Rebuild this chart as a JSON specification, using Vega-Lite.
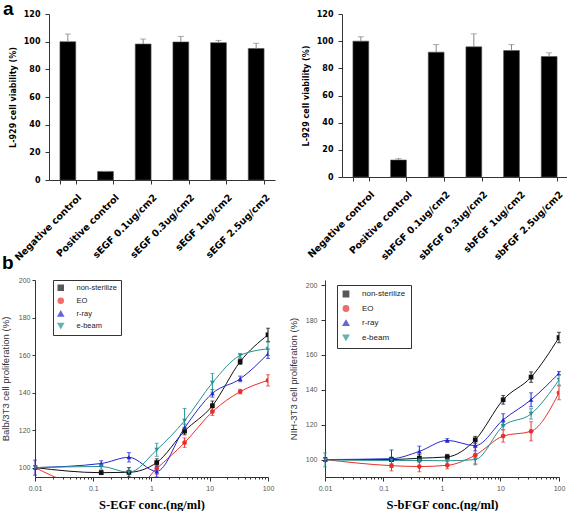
{
  "$schema": "https://vega.github.io/schema/vega-lite/v6.json",
  "padding": 0,
  "background": "white",
  "config": {
    "view": {"stroke": null},
    "font": "Liberation Sans",
    "axis": {"grid": false, "domainColor": "#333", "tickColor": "#333"}
  },
  "datasets": {
    "a1": [
      {"cat": "Negative control", "v": 100, "hi": 105.5},
      {"cat": "Positive control", "v": 6.2, "hi": 6.2},
      {"cat": "sEGF 0.1ug/cm2", "v": 98.3, "hi": 101.9},
      {"cat": "sEGF 0.3ug/cm2", "v": 99.8, "hi": 103.8},
      {"cat": "sEGF 1ug/cm2", "v": 99.3, "hi": 100.9},
      {"cat": "sEGF 2.5ug/cm2", "v": 95, "hi": 98.8}
    ],
    "a2": [
      {"cat": "Negative control", "v": 100, "hi": 103.2},
      {"cat": "Positive control", "v": 12.5, "hi": 13.5},
      {"cat": "sbFGF 0.1ug/cm2", "v": 91.9, "hi": 97.5},
      {"cat": "sbFGF 0.3ug/cm2", "v": 95.8, "hi": 105.4},
      {"cat": "sbFGF 1ug/cm2", "v": 93.1, "hi": 97.5},
      {"cat": "sbFGF 2.5ug/cm2", "v": 88.7, "hi": 91.4}
    ],
    "b1": [
      {"g": "non-sterilize", "c": 0.01, "v": 100, "e": 1},
      {"g": "non-sterilize", "c": 0.137, "v": 97.3, "e": 1},
      {"g": "non-sterilize", "c": 0.41, "v": 97.5, "e": 2.5},
      {"g": "non-sterilize", "c": 1.23, "v": 102.7, "e": 2},
      {"g": "non-sterilize", "c": 3.7, "v": 119.5, "e": 2},
      {"g": "non-sterilize", "c": 11.1, "v": 133, "e": 2.5},
      {"g": "non-sterilize", "c": 33.3, "v": 156.5, "e": 1.5},
      {"g": "non-sterilize", "c": 100, "v": 170.8, "e": 3.5},
      {"g": "EO", "c": 0.01, "v": 100, "e": 1},
      {"g": "EO", "c": 0.137, "v": 87, "e": 1},
      {"g": "EO", "c": 0.41, "v": 86, "e": 1},
      {"g": "EO", "c": 1.23, "v": 99.5, "e": 3},
      {"g": "EO", "c": 3.7, "v": 113.3, "e": 2.5},
      {"g": "EO", "c": 11.1, "v": 129.8, "e": 2},
      {"g": "EO", "c": 33.3, "v": 140.5, "e": 1.2},
      {"g": "EO", "c": 100, "v": 146.5, "e": 3},
      {"g": "r-ray", "c": 0.01, "v": 100, "e": 4},
      {"g": "r-ray", "c": 0.137, "v": 102.2, "e": 1.5},
      {"g": "r-ray", "c": 0.41, "v": 105.5, "e": 2.5},
      {"g": "r-ray", "c": 1.23, "v": 98, "e": 3},
      {"g": "r-ray", "c": 3.7, "v": 121.2, "e": 2},
      {"g": "r-ray", "c": 11.1, "v": 139.6, "e": 2},
      {"g": "r-ray", "c": 33.3, "v": 147.3, "e": 1.5},
      {"g": "r-ray", "c": 100, "v": 160.7, "e": 2.5},
      {"g": "e-beam", "c": 0.01, "v": 100, "e": 1},
      {"g": "e-beam", "c": 0.137, "v": 100.6, "e": 1.5},
      {"g": "e-beam", "c": 0.41, "v": 97.5, "e": 1},
      {"g": "e-beam", "c": 1.23, "v": 109.5, "e": 3.5},
      {"g": "e-beam", "c": 3.7, "v": 125, "e": 6.5},
      {"g": "e-beam", "c": 11.1, "v": 145.2, "e": 5},
      {"g": "e-beam", "c": 33.3, "v": 159.8, "e": 1},
      {"g": "e-beam", "c": 100, "v": 163.3, "e": 3.5}
    ],
    "b2": [
      {"g": "non-sterilize", "c": 0.01, "v": 100, "e": 1},
      {"g": "non-sterilize", "c": 0.137, "v": 100, "e": 1},
      {"g": "non-sterilize", "c": 0.41, "v": 100.8, "e": 2},
      {"g": "non-sterilize", "c": 1.23, "v": 101.5, "e": 1.5},
      {"g": "non-sterilize", "c": 3.7, "v": 111.3, "e": 2},
      {"g": "non-sterilize", "c": 11.1, "v": 134.3, "e": 2.5},
      {"g": "non-sterilize", "c": 33.3, "v": 147.3, "e": 3},
      {"g": "non-sterilize", "c": 100, "v": 170, "e": 3},
      {"g": "EO", "c": 0.01, "v": 100, "e": 1},
      {"g": "EO", "c": 0.137, "v": 96.5, "e": 3},
      {"g": "EO", "c": 0.41, "v": 96, "e": 3},
      {"g": "EO", "c": 1.23, "v": 96.7, "e": 2},
      {"g": "EO", "c": 3.7, "v": 102.5, "e": 5},
      {"g": "EO", "c": 11.1, "v": 113.5, "e": 3.5},
      {"g": "EO", "c": 33.3, "v": 116.2, "e": 5.5},
      {"g": "EO", "c": 100, "v": 138.3, "e": 4},
      {"g": "r-ray", "c": 0.01, "v": 100, "e": 1},
      {"g": "r-ray", "c": 0.137, "v": 100.5, "e": 5},
      {"g": "r-ray", "c": 0.41, "v": 104.7, "e": 3},
      {"g": "r-ray", "c": 1.23, "v": 111, "e": 1},
      {"g": "r-ray", "c": 3.7, "v": 108, "e": 3},
      {"g": "r-ray", "c": 11.1, "v": 122.8, "e": 3.5},
      {"g": "r-ray", "c": 33.3, "v": 134.3, "e": 4},
      {"g": "r-ray", "c": 100, "v": 149.5, "e": 1},
      {"g": "e-beam", "c": 0.01, "v": 99.8, "e": 4},
      {"g": "e-beam", "c": 0.137, "v": 99.5, "e": 2},
      {"g": "e-beam", "c": 0.41, "v": 99.5, "e": 1},
      {"g": "e-beam", "c": 1.23, "v": 99.3, "e": 2},
      {"g": "e-beam", "c": 3.7, "v": 100, "e": 3},
      {"g": "e-beam", "c": 11.1, "v": 119.3, "e": 2},
      {"g": "e-beam", "c": 33.3, "v": 126.2, "e": 3},
      {"g": "e-beam", "c": 100, "v": 145.7, "e": 3}
    ]
  },
  "spacing": -8,
  "vconcat": [
    {
      "spacing": 27,
      "hconcat": [
        {
          "width": 240, "height": 166,
          "title": {"text": "a", "anchor": "start", "frame": "group", "fontSize": 19, "fontWeight": "bold", "font": "Liberation Sans", "color": "black", "dx": -32, "offset": -9},
          "data": {"name": "a1"},
          "encoding": {
            "x": {"field": "cat", "type": "nominal", "sort": null, "scale": {"paddingInner": 0.58, "paddingOuter": 0.29, "range": [14, 240]},
              "axis": {"title": null, "tickBand": "extent", "labelAngle": -45, "labelFont": "DejaVu Sans", "labelFontWeight": "bold", "labelFontSize": 9.5, "labelColor": "black", "tickSize": 4, "labelPadding": 8, "labelOffset": 8}},
            "y": {"field": "v", "type": "quantitative", "scale": {"domain": [0, 120], "nice": false},
              "axis": {"offset": -14, "title": "L-929 cell viability (%)", "values": [0, 20, 40, 60, 80, 100, 120], "labelFont": "DejaVu Sans", "labelFontWeight": "bold", "labelFontSize": 8, "labelColor": "black", "tickSize": 4, "labelPadding": 5, "titleFont": "DejaVu Sans", "titleFontSize": 8, "titleFontWeight": "bold", "titleColor": "black", "titlePadding": 6}}
          },
          "layer": [
            {"mark": {"type": "bar", "color": "black", "stroke": "#555", "strokeWidth": 0.6}},
            {"mark": {"type": "rule", "color": "#888", "strokeWidth": 1}, "encoding": {"y2": {"field": "hi"}}},
            {"mark": {"type": "tick", "color": "#888", "size": 6, "thickness": 1}, "encoding": {"y": {"field": "hi", "type": "quantitative"}}}
          ]
        },
        {
          "width": 226, "height": 163,
          "data": {"name": "a2"},
          "encoding": {
            "x": {"field": "cat", "type": "nominal", "sort": null, "scale": {"paddingInner": 0.58, "paddingOuter": 0.29},
              "axis": {"title": null, "tickBand": "extent", "labelAngle": -45, "labelFont": "DejaVu Sans", "labelFontWeight": "bold", "labelFontSize": 9.5, "labelColor": "black", "tickSize": 4, "labelPadding": 8, "labelOffset": 8}},
            "y": {"field": "v", "type": "quantitative", "scale": {"domain": [0, 120], "nice": false},
              "axis": {"title": "L-929 cell viability (%)", "values": [0, 20, 40, 60, 80, 100, 120], "labelFont": "DejaVu Sans", "labelFontWeight": "bold", "labelFontSize": 8, "labelColor": "black", "tickSize": 4, "labelPadding": 5, "titleFont": "DejaVu Sans", "titleFontSize": 8, "titleFontWeight": "bold", "titleColor": "black", "titlePadding": 6}}
          },
          "layer": [
            {"mark": {"type": "bar", "color": "black", "stroke": "#555", "strokeWidth": 0.6}},
            {"mark": {"type": "rule", "color": "#888", "strokeWidth": 1}, "encoding": {"y2": {"field": "hi"}}},
            {"mark": {"type": "tick", "color": "#888", "size": 6, "thickness": 1}, "encoding": {"y": {"field": "hi", "type": "quantitative"}}}
          ]
        }
      ]
    },
    {
      "spacing": 14,
      "resolve": {"scale": {"color": "independent", "shape": "independent"}, "legend": {"color": "independent", "shape": "independent"}},
      "hconcat": [
        {
          "width": 233, "height": 197,
          "title": {"text": "b", "anchor": "start", "frame": "group", "fontSize": 19, "fontWeight": "bold", "font": "Liberation Sans", "color": "black", "dx": -33, "offset": 3},
          "data": {"name": "b1"},
          "encoding": {
            "x": {"field": "c", "type": "quantitative", "scale": {"type": "log", "domain": [0.01, 100]},
              "axis": {"title": "S-EGF conc.(ng/ml)", "values": [0.01,0.02,0.03,0.04,0.05,0.06,0.07,0.08,0.09,0.1,0.2,0.3,0.4,0.5,0.6,0.7,0.8,0.9,1,2,3,4,5,6,7,8,9,10,20,30,40,50,60,70,80,90,100], "format": "~g",
                "labelExpr": "abs(log(datum.value)/LN10 - round(log(datum.value)/LN10)) < 0.01 ? datum.label : ''",
                "tickSize": {"condition": {"test": "abs(log(datum.value)/LN10 - round(log(datum.value)/LN10)) < 0.01", "value": 4}, "value": 2},
                "labelOverlap": false, "labelFlush": false, "labelFontSize": 7, "labelColor": "#555", "labelPadding": 3,
                "titleFont": "Liberation Serif", "titleFontSize": 12.5, "titleFontWeight": "bold", "titleColor": "black", "titlePadding": 7}},
            "y": {"field": "v", "type": "quantitative", "scale": {"domain": [95, 200], "nice": false, "zero": false},
              "axis": {"title": "Balb/3T3 cell proliferation (%)", "values": [100, 120, 140, 160, 180, 200], "labelFontSize": 7, "labelColor": "#555", "tickSize": 3, "labelPadding": 2, "titleFontSize": 9.5, "titleFontWeight": "normal", "titleColor": "#333", "titlePadding": 8}},
            "color": {"field": "g", "type": "nominal", "scale": {"domain": ["non-sterilize", "EO", "r-ray", "e-beam"], "range": ["#111111", "#e8302a", "#2525d0", "#279090"]},
              "legend": {"title": null, "orient": "none", "legendX": 18, "legendY": 0, "strokeColor": "#333", "fillColor": "white", "padding": 4, "labelFontSize": 7.5, "labelColor": "#222", "symbolSize": 25, "rowPadding": 1, "labelOffset": 12}}
          },
          "layer": [
            {"mark": {"type": "line", "interpolate": "monotone", "strokeWidth": 1, "clip": true}},
            {"transform": [{"filter": "datum.v > 95"}], "mark": {"type": "errorbar", "ticks": {"size": 4}, "thickness": 1}, "encoding": {"yError": {"field": "e"}}},
            {"mark": {"type": "point", "filled": true, "size": 22, "opacity": 1, "clip": true},
              "encoding": {"shape": {"field": "g", "type": "nominal", "scale": {"domain": ["non-sterilize", "EO", "r-ray", "e-beam"], "range": ["square", "circle", "triangle-up", "triangle-down"]},
                "legend": {"title": null, "orient": "none", "legendX": 18, "legendY": 0, "strokeColor": "#333", "fillColor": "white", "padding": 4, "labelFontSize": 7.5, "labelColor": "#222", "symbolSize": 25, "rowPadding": 1, "labelOffset": 12}}}}
          ]
        },
        {
          "width": 234, "height": 197,
          "data": {"name": "b2"},
          "encoding": {
            "x": {"field": "c", "type": "quantitative", "scale": {"type": "log", "domain": [0.01, 100]},
              "axis": {"title": "S-bFGF conc.(ng/ml)", "values": [0.01,0.02,0.03,0.04,0.05,0.06,0.07,0.08,0.09,0.1,0.2,0.3,0.4,0.5,0.6,0.7,0.8,0.9,1,2,3,4,5,6,7,8,9,10,20,30,40,50,60,70,80,90,100], "format": "~g",
                "labelExpr": "abs(log(datum.value)/LN10 - round(log(datum.value)/LN10)) < 0.01 ? datum.label : ''",
                "tickSize": {"condition": {"test": "abs(log(datum.value)/LN10 - round(log(datum.value)/LN10)) < 0.01", "value": 4}, "value": 2},
                "labelOverlap": false, "labelFlush": false, "labelFontSize": 7, "labelColor": "#555", "labelPadding": 3,
                "titleFont": "Liberation Serif", "titleFontSize": 12.5, "titleFontWeight": "bold", "titleColor": "black", "titlePadding": 7}},
            "y": {"field": "v", "type": "quantitative", "scale": {"domain": [90, 203], "nice": false, "zero": false},
              "axis": {"title": "NIH-3T3 cell proliferation (%)", "values": [100, 120, 140, 160, 180, 200], "labelFontSize": 7, "labelColor": "#555", "tickSize": 4, "labelPadding": 4, "titleFontSize": 9.5, "titleFontWeight": "normal", "titleColor": "#333", "titlePadding": 7}},
            "color": {"field": "g", "type": "nominal", "scale": {"domain": ["non-sterilize", "EO", "r-ray", "e-beam"], "range": ["#111111", "#e8302a", "#2525d0", "#279090"]},
              "legend": {"title": null, "orient": "none", "legendX": 12, "legendY": 5, "strokeColor": "#333", "fillColor": "white", "padding": 5, "labelFontSize": 8, "labelColor": "#222", "symbolSize": 28, "rowPadding": 2.5, "labelOffset": 12}}
          },
          "layer": [
            {"mark": {"type": "line", "interpolate": "monotone", "strokeWidth": 1, "clip": true}},
            {"mark": {"type": "errorbar", "ticks": {"size": 4}, "thickness": 1}, "encoding": {"yError": {"field": "e"}}},
            {"mark": {"type": "point", "filled": true, "size": 22, "opacity": 1, "clip": true},
              "encoding": {"shape": {"field": "g", "type": "nominal", "scale": {"domain": ["non-sterilize", "EO", "r-ray", "e-beam"], "range": ["square", "circle", "triangle-up", "triangle-down"]},
                "legend": {"title": null, "orient": "none", "legendX": 12, "legendY": 5, "strokeColor": "#333", "fillColor": "white", "padding": 5, "labelFontSize": 8, "labelColor": "#222", "symbolSize": 28, "rowPadding": 2.5, "labelOffset": 12}}}}
          ]
        }
      ]
    }
  ]
}
